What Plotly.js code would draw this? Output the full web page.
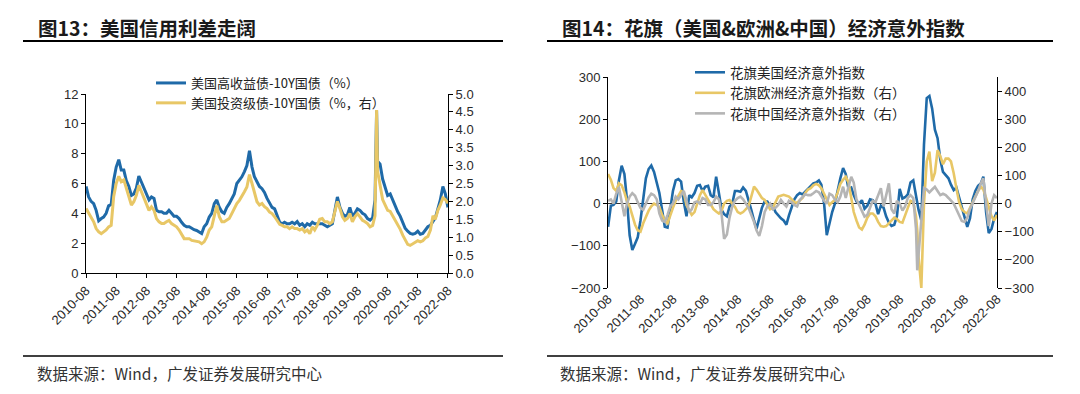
<!DOCTYPE html>
<html>
<head>
<meta charset="utf-8">
<script src="https://cdn.plot.ly/plotly-3.0.1.min.js"></script>
<style>
html,body{margin:0;padding:0;background:#fff;}
#chart{width:1080px;height:394px;}
</style>
</head>
<body>
<div id="chart"></div>
<script>
// ---------- Left chart: US credit spreads ----------
const datesL = [
 '2010-08','2010-09','2010-10','2010-11','2010-12',
 '2011-01','2011-02','2011-03','2011-04','2011-05','2011-06','2011-07','2011-08','2011-09','2011-10','2011-11','2011-12',
 '2012-01','2012-02','2012-03','2012-04','2012-05','2012-06','2012-07','2012-08','2012-09','2012-10','2012-11','2012-12',
 '2013-01','2013-02','2013-03','2013-04','2013-05','2013-06','2013-07','2013-08','2013-09','2013-10','2013-11','2013-12',
 '2014-01','2014-02','2014-03','2014-04','2014-05','2014-06','2014-07','2014-08','2014-09','2014-10','2014-11','2014-12',
 '2015-01','2015-02','2015-03','2015-04','2015-05','2015-06','2015-07','2015-08','2015-09','2015-10','2015-11','2015-12',
 '2016-01','2016-02','2016-03','2016-04','2016-05','2016-06','2016-07','2016-08','2016-09','2016-10','2016-11','2016-12',
 '2017-01','2017-02','2017-03','2017-04','2017-05','2017-06','2017-07','2017-08','2017-09','2017-10','2017-11','2017-12',
 '2018-01','2018-02','2018-03','2018-04','2018-05','2018-06','2018-07','2018-08','2018-09','2018-10','2018-11','2018-12',
 '2019-01','2019-02','2019-03','2019-04','2019-05','2019-06','2019-07','2019-08','2019-09','2019-10','2019-11','2019-12',
 '2020-01','2020-02','2020-03','2020-03-20','2020-04','2020-05','2020-06','2020-07','2020-08','2020-09','2020-10','2020-11','2020-12',
 '2021-01','2021-02','2021-03','2021-04','2021-05','2021-06','2021-07','2021-08','2021-09','2021-10','2021-11','2021-12',
 '2022-01','2022-02','2022-03','2022-04','2022-05','2022-06','2022-07','2022-08'
];
// US high yield - 10Y treasury (%), left axis
const hySpread = [
 5.8, 5.1, 4.8, 4.65, 4.2,
 3.5, 3.65, 3.75, 4.0, 4.5, 4.6, 6.2, 7.1, 7.6, 6.9, 6.9, 6.2,
 5.8, 5.2, 5.3, 5.7, 6.5, 6.1, 5.7, 5.2, 4.9, 5.1, 5.0, 4.2,
 4.1, 4.1, 4.0, 4.0, 4.2, 4.0, 3.8, 3.8, 3.65, 3.4, 3.2, 3.1,
 3.1, 3.0, 2.9, 2.85, 2.75, 2.65, 3.1, 3.3, 3.75, 4.0, 4.65, 4.9,
 4.4, 4.1, 4.0, 4.4, 4.65, 5.0, 5.3, 6.0, 6.2, 6.45, 6.8, 7.2,
 8.2, 7.1, 6.45, 6.1, 5.8, 5.65, 5.4, 5.0, 4.65, 4.4, 4.3, 3.8,
 3.4, 3.3, 3.4, 3.3, 3.3, 3.4, 3.3, 3.45, 3.2, 3.3, 3.1, 3.3,
 3.2, 3.4, 3.3, 3.3, 3.3, 3.3, 3.2, 3.1, 3.2, 3.3, 4.2, 5.1,
 4.4, 4.0, 3.8, 3.9, 4.4, 3.8, 4.0, 4.3, 4.2, 4.0, 3.9, 3.65,
 3.55, 3.7, 4.9, 10.9, 7.5, 7.3, 6.3, 5.7, 5.2, 5.3, 4.9, 4.4, 4.1,
 3.8, 3.3, 3.0, 2.8, 2.65, 2.6, 2.65, 2.8, 2.6, 2.65, 2.9, 3.1,
 3.2, 3.5, 3.7, 4.3, 4.9, 5.8, 5.3, 4.4
];
// US investment grade - 10Y treasury (%), right axis
const igSpread = [
 1.8, 1.66, 1.57, 1.43, 1.24,
 1.15, 1.1, 1.15, 1.2, 1.29, 1.33, 2.13, 2.5, 2.7, 2.55, 2.6, 2.36,
 2.13, 1.9, 1.99, 2.17, 2.45, 2.27, 2.08, 1.9, 1.75, 1.85, 1.75, 1.52,
 1.43, 1.38, 1.38, 1.43, 1.47, 1.38, 1.33, 1.29, 1.2, 1.1, 0.96, 0.96,
 0.96, 0.91, 0.9, 0.87, 0.87, 0.82, 0.87, 1.0, 1.2, 1.29, 1.57, 1.88,
 1.57, 1.43, 1.43, 1.47, 1.52, 1.66, 1.8, 1.94, 2.03, 2.13, 2.27, 2.4,
 2.75, 2.5, 2.22, 1.99, 1.9, 1.94, 1.85, 1.8, 1.7, 1.66, 1.57, 1.47,
 1.36, 1.33, 1.29, 1.29, 1.24, 1.29, 1.24, 1.24, 1.2, 1.24, 1.15, 1.2,
 1.1, 1.29, 1.2, 1.33, 1.5, 1.52, 1.43, 1.43, 1.38, 1.43, 1.75, 2.0,
 1.8, 1.57, 1.47, 1.52, 1.66, 1.43, 1.57, 1.66, 1.57, 1.47, 1.43, 1.38,
 1.29, 1.33, 1.6, 4.55, 2.85, 2.5, 2.05, 1.9, 1.75, 1.72, 1.6, 1.45, 1.33,
 1.22, 1.05, 0.92, 0.8, 0.77, 0.82, 0.87, 0.9, 0.87, 0.9, 0.98, 1.02,
 1.2, 1.6, 1.5, 1.75, 1.9, 2.1, 2.05, 1.95
];

// ---------- Right chart: Citi economic surprise indices ----------
const datesR = [
 '2010-08','2010-09','2010-10','2010-11','2010-12',
 '2011-01','2011-02','2011-03','2011-04','2011-05','2011-06','2011-07','2011-08','2011-09','2011-10','2011-11','2011-12',
 '2012-01','2012-02','2012-03','2012-04','2012-05','2012-06','2012-07','2012-08','2012-09','2012-10','2012-11','2012-12',
 '2013-01','2013-02','2013-03','2013-04','2013-05','2013-06','2013-07','2013-08','2013-09','2013-10','2013-11','2013-12',
 '2014-01','2014-02','2014-03','2014-04','2014-05','2014-06','2014-07','2014-08','2014-09','2014-10','2014-11','2014-12',
 '2015-01','2015-02','2015-03','2015-04','2015-05','2015-06','2015-07','2015-08','2015-09','2015-10','2015-11','2015-12',
 '2016-01','2016-02','2016-03','2016-04','2016-05','2016-06','2016-07','2016-08','2016-09','2016-10','2016-11','2016-12',
 '2017-01','2017-02','2017-03','2017-04','2017-05','2017-06','2017-07','2017-08','2017-09','2017-10','2017-11','2017-12',
 '2018-01','2018-02','2018-03','2018-04','2018-05','2018-06','2018-07','2018-08','2018-09','2018-10','2018-11','2018-12',
 '2019-01','2019-02','2019-03','2019-04','2019-05','2019-06','2019-07','2019-08','2019-09','2019-10','2019-11','2019-12',
 '2020-01','2020-02','2020-02-15','2020-03','2020-04','2020-05','2020-06','2020-07','2020-08','2020-09','2020-10','2020-11','2020-12',
 '2021-01','2021-02','2021-03','2021-04','2021-05','2021-06','2021-07','2021-08','2021-09','2021-10','2021-11','2021-12',
 '2022-01','2022-02','2022-03','2022-04','2022-05','2022-06','2022-07','2022-08'
];
// Citi US surprise index, left axis
const citiUS = [
 -55, -5, -3, 5, 55,
 90, 70, 10, -75, -110, -95, -80, -40, 10, 60, 82, 90,
 75, 45, 25, -15, -55, -57, -15, 30, 55, 58, 52, 5,
 -30, 20, 15, 25, 42, 44, 30, 40, 42, 20, 15, 64,
 25, -15, -25, -30, -7, 0, 30, 30, 28, 38, 30, 10,
 -15, -40, -60, -35, -10, 5, 5, -5, -5, -20, -28, -35,
 -40, -50, -28, -10, 10, 20, 25, 22, 28, 35, 42, 48,
 50, 55, 45, 0, -75, -45, -20, 0, 35, 60, 84, 70,
 35, 38, 20, 5, 0, 8, -12, -5, 10, 8, 0, -25,
 -5, -10, -30, -45, -53, -50, -30, 35, 12, 15, 22, 50,
 55, 20, 5, -15, -40, 140, 250, 255, 225, 175, 155, 104, 75,
 68, 60, 45, 32, 38, 15, -10, -30, -55, -35, 10, 30,
 42, 48, 64, -20, -70, -60, -35, -20
];
// Citi Europe surprise index, right axis
const citiEU = [
 105, 85, 55, 45, 72,
 65, 40, 10, -10, -45, -75, -95, -100, -70, -45, -25, -10,
 0, -5, -12, -40, -60, -70, -40, -15, 10, 30, 45, 40,
 -5, -25, -40, -30, 0, 30, 48, 30, 10, -5, -20, -28,
 -35, -25, 0, 10, 13, 0, -12, -30, -35, -30, -20, -10,
 25, 60, 50, 37, 20, 13, -5, -20, -15, 5, 25, 28,
 31, 28, 25, 15, 5, 3, 10, 20, 38, 50, 55, 65,
 70, 65, 55, 35, 10, -5, 5, 13, 40, 70, 85, 95,
 75, 20, -30, -60, -85, -92, -75, -50, -35, -35, -45, -65,
 -80, -82, -80, -70, -60, -50, -55, -65, -68, -45, -15, 10,
 5, -46, -95, -190, -300, 0, 150, 185, 80, 110, 190, 168, 140,
 160, 160, 150, 108, 55, 5, -20, -30, -35, -15, 5, 25,
 45, 60, 50, 20, -10, -45, -60, -40
];
// Citi China surprise index, right axis
const citiCN = [
 10, 15, 0, 35, 58,
 10, -45, 0, 25, 37, 28, 5, -15, -22, 0, 22, 35,
 30, 15, -35, -60, -65, -40, -10, 0, 25, 15, 30, 45,
 10, -30, -20, 5, 8, 0, 20, 15, -5, -5, 5, 25,
 15, -40, -125, -110, -50, -10, 10, 20, 25, 15, 0, -15,
 -40, -65, -95, -115, -80, -30, -10, 0, -20, -15, -5, 13,
 0, -10, 10, 5, -5, -10, 13, 25, 33, 30, 30, 37,
 45, 40, 25, 10, 0, 35, 30, 15, 5, 25, 60, 20,
 60, 95, 75, 15, -5, -25, -46, -40, -12, 10, 5, 30,
 55, -10, 30, 72, -20, -35, 10, 0, -25, -10, 20, 30,
 20, -90, -237, -175, -35, 55, 50, 40, 50, 60, 45, 30, 35,
 30, 20, 10, 0, -20, -45, -62, -65, -50, -20, 0, 20,
 45, 72, 90, 0, -80, 0, 30, 20
];

const namesL = ['美国高收益债-10Y国债（%）', '美国投资级债-10Y国债（%，右）'];
const namesR = ['花旗美国经济意外指数', '花旗欧洲经济意外指数（右）', '花旗中国经济意外指数（右）'];

// ---------- styling ----------
const BLUE = '#1f6aa8', GOLD = '#e8c766', GRAY = '#b5b5b5';
const W = 1080, H = 394;
const px = v => v / W, py = v => 1 - v / H;
const tickFont = {family: 'Liberation Sans, Arial, sans-serif', size: 13, color: '#2a2a2a'};
const cjk = 'Noto Sans CJK SC, sans-serif';

const traces = [
  {x: datesL, y: hySpread, name: namesL[0], type: 'scatter', mode: 'lines', xaxis: 'x', yaxis: 'y',
   line: {color: BLUE, width: 3}, legend: 'legend', hoverinfo: 'skip'},
  {x: datesL, y: igSpread, name: namesL[1], type: 'scatter', mode: 'lines', xaxis: 'x', yaxis: 'y2',
   line: {color: GOLD, width: 3}, legend: 'legend', hoverinfo: 'skip'},
  {x: datesR, y: citiUS, name: namesR[0], type: 'scatter', mode: 'lines', xaxis: 'x3', yaxis: 'y3',
   line: {color: BLUE, width: 2.6}, legend: 'legend2', hoverinfo: 'skip'},
  {x: datesR, y: citiEU, name: namesR[1], type: 'scatter', mode: 'lines', xaxis: 'x3', yaxis: 'y4',
   line: {color: GOLD, width: 2.6}, legend: 'legend2', hoverinfo: 'skip'},
  {x: datesR, y: citiCN, name: namesR[2], type: 'scatter', mode: 'lines', xaxis: 'x3', yaxis: 'y4',
   line: {color: GRAY, width: 2.6}, legend: 'legend2', hoverinfo: 'skip'}
];

const dateAxis = {
  type: 'date', range: ['2010-07-31', '2022-08-02'], tick0: '2010-08-01', dtick: 'M12',
  tickformat: '%Y-%m', tickangle: -45, tickfont: tickFont, showgrid: false, zeroline: false,
  fixedrange: true
};
const valAxis = {
  showgrid: false, zeroline: false, showline: true, linecolor: '#000', linewidth: 1,
  ticks: 'outside', ticklen: 4, tickcolor: '#000', tickfont: tickFont, fixedrange: true
};

const layout = {
  width: W, height: H,
  margin: {l: 0, r: 0, t: 0, b: 0},
  paper_bgcolor: '#fff', plot_bgcolor: 'rgba(0,0,0,0)',
  showlegend: true,
  xaxis: Object.assign({}, dateAxis, {domain: [px(86), px(448)], anchor: 'y',
    showline: true, linecolor: '#000', linewidth: 1, ticks: 'outside', ticklen: 4, tickcolor: '#000'}),
  yaxis: Object.assign({}, valAxis, {domain: [py(273), py(94)], anchor: 'x', range: [0, 12], dtick: 2}),
  yaxis2: Object.assign({}, valAxis, {overlaying: 'y', side: 'right', anchor: 'x', range: [0, 5], dtick: 0.5, tickformat: '.1f'}),
  xaxis3: Object.assign({}, dateAxis, {domain: [px(608), px(997)], anchor: 'y3', showline: false, ticks: ''}),
  yaxis3: Object.assign({}, valAxis, {domain: [py(288), py(77)], anchor: 'x3', range: [-200, 300], dtick: 100,
    zeroline: true, zerolinecolor: '#333', zerolinewidth: 1.3}),
  yaxis4: Object.assign({}, valAxis, {overlaying: 'y3', side: 'right', anchor: 'x3', range: [-300, 450],
    tick0: -300, dtick: 100}),
  legend: {x: px(151), y: py(68), xanchor: 'left', yanchor: 'top', bgcolor: 'rgba(0,0,0,0)',
    font: {family: cjk, size: 13, color: '#222'}, itemwidth: 30, tracegroupgap: 0},
  legend2: {x: px(690), y: py(57), xanchor: 'left', yanchor: 'top', bgcolor: 'rgba(0,0,0,0)',
    font: {family: cjk, size: 13.5, color: '#222'}, itemwidth: 30, tracegroupgap: 0},
  annotations: [
    {text: '<b>图13：美国信用利差走阔</b>', x: px(36), y: py(27), xref: 'paper', yref: 'paper',
     xanchor: 'left', yanchor: 'middle', showarrow: false, font: {family: cjk, size: 19.5, color: '#1a1a1a'}},
    {text: '<b>图14：花旗（美国&欧洲&中国）经济意外指数</b>', x: px(560), y: py(27), xref: 'paper', yref: 'paper',
     xanchor: 'left', yanchor: 'middle', showarrow: false, font: {family: cjk, size: 19.5, color: '#1a1a1a'}},
    {text: '数据来源：Wind，广发证券发展研究中心', x: px(35), y: py(373), xref: 'paper', yref: 'paper',
     xanchor: 'left', yanchor: 'middle', showarrow: false, font: {family: cjk, size: 15.5, color: '#333'}},
    {text: '数据来源：Wind，广发证券发展研究中心', x: px(558), y: py(373), xref: 'paper', yref: 'paper',
     xanchor: 'left', yanchor: 'middle', showarrow: false, font: {family: cjk, size: 15.5, color: '#333'}}
  ],
  shapes: [
    {type: 'line', xref: 'paper', yref: 'paper', x0: px(23), x1: px(503), y0: py(41), y1: py(41), line: {color: '#000', width: 2}},
    {type: 'line', xref: 'paper', yref: 'paper', x0: px(547), x1: px(1053), y0: py(41), y1: py(41), line: {color: '#000', width: 2}},
    {type: 'line', xref: 'paper', yref: 'paper', x0: px(23), x1: px(503), y0: py(356), y1: py(356), line: {color: '#000', width: 1.3}},
    {type: 'line', xref: 'paper', yref: 'paper', x0: px(547), x1: px(1053), y0: py(356), y1: py(356), line: {color: '#000', width: 1.3}}
  ]
};

Plotly.newPlot('chart', traces, layout, {displayModeBar: false, staticPlot: true});
</script>
</body>
</html>
